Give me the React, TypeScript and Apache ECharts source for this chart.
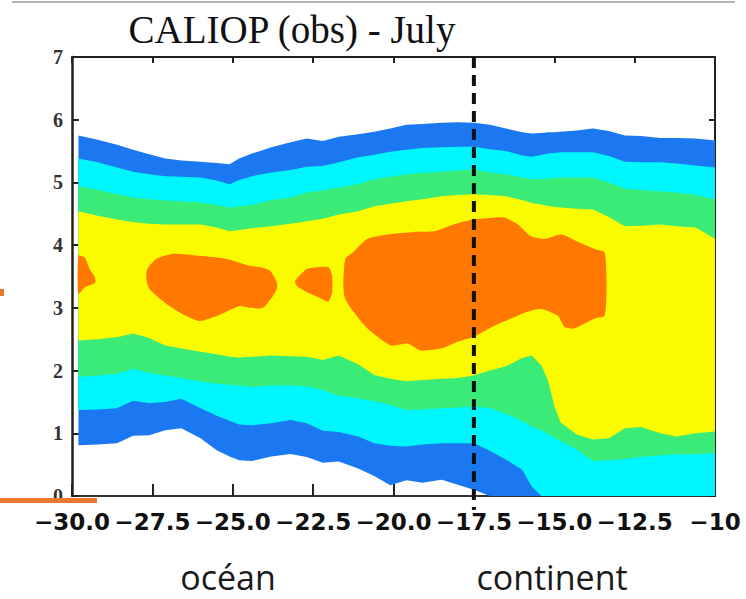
import React, { useEffect, useRef } from "react";
import * as echarts from "echarts";

// Longitude samples (degrees) along which the contour band edges are given
const X = [
  -29.8, -29.2, -28.6, -28.1, -27.6, -27.1, -26.6, -26.0, -25.5, -25.1, -24.8,
  -24.4, -23.8, -23.2, -22.7, -22.2, -21.7, -21.1, -20.6, -20.1, -19.6, -19.1,
  -18.5, -18.0, -17.5, -17.0, -16.5, -16.0, -15.7, -15.4, -15.2, -15.0, -14.8,
  -14.3, -13.8, -13.3, -12.8, -12.3, -11.7, -11.2, -10.6, -10.0,
];

// Altitude (km) of the upper edge of each contour level
const TOP_BLUE = [
  5.75, 5.68, 5.6, 5.52, 5.45, 5.38, 5.35, 5.33, 5.31, 5.29, 5.38, 5.46, 5.56,
  5.64, 5.7, 5.66, 5.73, 5.77, 5.81, 5.86, 5.92, 5.93, 5.95, 5.96, 5.95, 5.92,
  5.86, 5.8, 5.78, 5.79, 5.8, 5.8, 5.81, 5.83, 5.86, 5.82, 5.75, 5.74, 5.71,
  5.71, 5.7, 5.67,
];
const TOP_CYAN = [
  5.38, 5.32, 5.24, 5.17, 5.13, 5.1, 5.09, 5.08, 5.03, 4.97, 5.04, 5.1, 5.16,
  5.2, 5.25, 5.26, 5.32, 5.4, 5.44, 5.49, 5.52, 5.55, 5.56, 5.57, 5.57, 5.53,
  5.5, 5.43, 5.41, 5.44, 5.46, 5.47, 5.48, 5.48, 5.48, 5.42, 5.33, 5.32, 5.32,
  5.3, 5.27, 5.24,
];
const TOP_GREEN = [
  4.94, 4.88, 4.81, 4.76, 4.73, 4.71, 4.7, 4.68, 4.64, 4.6, 4.62, 4.64, 4.72,
  4.76, 4.84, 4.87, 4.92, 4.97, 5.05, 5.09, 5.13, 5.15, 5.17, 5.19, 5.21, 5.16,
  5.13, 5.08, 5.05, 5.05, 5.06, 5.07, 5.08, 5.08, 5.08, 5.0, 4.9, 4.88, 4.86,
  4.84, 4.8, 4.73,
];
const TOP_YELLOW = [
  4.54, 4.47, 4.41, 4.37, 4.34, 4.33, 4.33, 4.33, 4.28, 4.22, 4.24, 4.27, 4.3,
  4.34, 4.38, 4.42, 4.49, 4.54, 4.62, 4.66, 4.7, 4.73, 4.78, 4.8, 4.81, 4.8,
  4.78, 4.72, 4.67, 4.65, 4.63, 4.61, 4.6, 4.58, 4.57, 4.45, 4.3, 4.31, 4.33,
  4.3, 4.28, 4.1,
];

// Altitude (km) of the lower edge of each contour level
const BOT_YELLOW = [
  2.48, 2.5, 2.53, 2.59, 2.52, 2.4, 2.35, 2.3, 2.26, 2.22, 2.21, 2.22, 2.24,
  2.23, 2.22, 2.17, 2.24, 2.1, 1.93, 1.87, 1.83, 1.85, 1.87, 1.88, 1.92, 2.0,
  2.07, 2.2, 2.24, 2.08, 1.85, 1.44, 1.17, 0.98, 0.9, 0.92, 1.08, 1.1, 1.0,
  0.95, 1.0, 1.03,
];
const BOT_GREEN = [
  1.9, 1.92, 1.95, 2.03, 1.96, 1.92, 1.88, 1.83, 1.79, 1.77, 1.76, 1.74, 1.76,
  1.76, 1.75, 1.69, 1.6, 1.56, 1.51, 1.45, 1.37, 1.38, 1.4, 1.41, 1.43, 1.4,
  1.31, 1.2, 1.11, 1.05, 0.99, 0.93, 0.88, 0.74, 0.56, 0.57, 0.59, 0.62, 0.65,
  0.66, 0.67, 0.68,
];
const BOT_CYAN = [
  1.37, 1.38, 1.4, 1.52, 1.48, 1.5, 1.55, 1.4, 1.28, 1.2, 1.14, 1.13, 1.16,
  1.21, 1.16, 1.04, 1.02, 0.95, 0.84, 0.8, 0.79, 0.82, 0.84, 0.84, 0.84, 0.72,
  0.58, 0.42, 0.15, 0, 0, 0, 0, 0, 0, 0, 0, 0, 0, 0, 0, 0,
];
const BOT_BLUE = [
  0.81, 0.82, 0.84, 0.96, 0.97, 1.05, 1.08, 0.92, 0.73, 0.63, 0.57, 0.56, 0.63,
  0.67, 0.62, 0.53, 0.55, 0.44, 0.32, 0.17, 0.25, 0.21, 0.26, 0.18, 0.1, 0, 0,
  0, 0, 0, 0, 0, 0, 0, 0, 0, 0, 0, 0, 0, 0, 0,
];

// Outlines [lon, alt] of the highest-concentration patches
const CORE_WEST_EDGE = [
  [-29.8, 3.83], [-29.6, 3.8], [-29.45, 3.62], [-29.3, 3.5], [-29.27, 3.4],
  [-29.4, 3.37], [-29.6, 3.33], [-29.8, 3.22],
];
const CORE_OCEAN = [
  [-27.66, 3.62], [-27.38, 3.78], [-26.88, 3.86], [-26.03, 3.83], [-25.19, 3.78],
  [-24.47, 3.67], [-24.16, 3.65], [-23.84, 3.59], [-23.63, 3.41], [-23.63, 3.3],
  [-23.75, 3.19], [-24.06, 3.0], [-24.47, 3.0], [-24.78, 3.03], [-25.5, 2.87],
  [-26.03, 2.79], [-26.56, 2.9], [-27.06, 3.06], [-27.59, 3.3], [-27.69, 3.46],
];
const CORE_SMALL = [
  [-23.06, 3.43], [-22.69, 3.62], [-22.03, 3.65], [-21.91, 3.51], [-21.91, 3.25],
  [-22.03, 3.1], [-22.34, 3.17], [-22.69, 3.25], [-23.0, 3.35],
];
const CORE_COAST = [
  [-21.5, 3.14], [-21.56, 3.35], [-21.5, 3.78], [-21.25, 3.89], [-20.81, 4.1],
  [-20.19, 4.17], [-19.38, 4.21], [-18.75, 4.22], [-18.13, 4.33], [-17.53, 4.41],
  [-17.06, 4.43], [-16.56, 4.44], [-16.13, 4.33], [-15.72, 4.14], [-15.31, 4.1],
  [-14.78, 4.17], [-14.25, 4.05], [-13.75, 3.94], [-13.44, 3.89], [-13.38, 3.57],
  [-13.38, 3.14], [-13.44, 2.87], [-13.75, 2.83], [-14.38, 2.67], [-14.69, 2.7],
  [-14.88, 2.87], [-15.41, 2.98], [-15.81, 2.94], [-16.34, 2.83], [-16.88, 2.71],
  [-17.5, 2.54], [-18.0, 2.46], [-18.53, 2.35], [-19.16, 2.32], [-19.56, 2.43],
  [-20.09, 2.4], [-20.81, 2.67], [-21.25, 2.94],
];

// Coastline longitude separating ocean and continent
const COAST_LON = -17.5;

const X_MIN = -30;
const X_MAX = -10;
const X_STEP = 2.5;
const Y_MIN = 0;
const Y_MAX = 7;

const COLORS = {
  blue: "#1c78f0",
  cyan: "#00f6ff",
  green: "#3aeb78",
  yellow: "#fbfb00",
  orange: "#ff7800",
};

const BANDS = [
  { color: COLORS.blue, upper: TOP_BLUE, lower: BOT_BLUE },
  { color: COLORS.cyan, upper: TOP_CYAN, lower: BOT_CYAN },
  { color: COLORS.green, upper: TOP_GREEN, lower: BOT_GREEN },
  { color: COLORS.yellow, upper: TOP_YELLOW, lower: BOT_YELLOW },
];
const CORES = [CORE_WEST_EDGE, CORE_OCEAN, CORE_SMALL, CORE_COAST];

const fmtLon = (v: number) =>
  v === X_MAX ? "\u2212" + Math.abs(v) : "\u2212" + Math.abs(v).toFixed(1);

const axisLine = { show: true, lineStyle: { color: "#222", width: 2 } };

function buildOption() {
  return {
    animation: false,
    backgroundColor: "#fff",
    grid: { left: 72, right: 31, top: 57, bottom: 103 },
    xAxis: [
      {
        type: "value",
        position: "bottom",
        min: X_MIN,
        max: X_MAX,
        interval: X_STEP,
        axisLine,
        axisTick: { show: false },
        axisLabel: { show: false },
        splitLine: { show: false },
      },
      {
        type: "value",
        position: "bottom",
        offset: 8,
        min: X_MIN,
        max: X_MAX,
        interval: X_STEP,
        axisLine: { show: true, lineStyle: { color: "#333", width: 2 } },
        axisTick: { show: true, inside: true, length: 12, lineStyle: { color: "#222", width: 2 } },
        axisLabel: {
          show: true,
          interval: 0,
          margin: 6,
          formatter: fmtLon,
          fontFamily: "DejaVu Sans",
          fontWeight: "bold",
          fontSize: 23,
          color: "#111",
        },
        splitLine: { show: false },
      },
      {
        type: "value",
        position: "top",
        min: X_MIN,
        max: X_MAX,
        interval: X_STEP,
        axisLine,
        axisTick: { show: true, inside: true, length: 6, lineStyle: { color: "#222", width: 2 } },
        axisLabel: { show: false },
        splitLine: { show: false },
      },
    ],
    yAxis: [
      {
        type: "value",
        position: "left",
        min: Y_MIN,
        max: Y_MAX,
        interval: 1,
        axisLine: { show: true, lineStyle: { color: "#222", width: 2.5 } },
        axisTick: { show: true, inside: true, length: 7, lineStyle: { color: "#222", width: 2 } },
        axisLabel: {
          margin: 9,
          fontFamily: "Liberation Serif",
          fontWeight: "bold",
          fontSize: 20,
          color: "#333",
        },
        splitLine: { show: false },
      },
      {
        type: "value",
        position: "right",
        min: Y_MIN,
        max: Y_MAX,
        interval: 1,
        axisLine,
        axisTick: { show: true, inside: true, length: 6, lineStyle: { color: "#222", width: 2 } },
        axisLabel: { show: false },
        splitLine: { show: false },
      },
    ],
    series: [
      {
        type: "custom",
        name: "levels",
        xAxisIndex: 0,
        yAxisIndex: 0,
        clip: true,
        data: BANDS.map((b) => [X[0], b.upper[0]]),
        renderItem: (params: any, api: any) => {
          const band = BANDS[params.dataIndex];
          const pts: number[][] = [];
          for (let i = 0; i < X.length; i++) pts.push(api.coord([X[i], band.upper[i]]));
          for (let i = X.length - 1; i >= 0; i--) pts.push(api.coord([X[i], band.lower[i]]));
          return { type: "polygon", shape: { points: pts }, style: { fill: band.color } };
        },
        z: 1,
      },
      {
        type: "custom",
        name: "cores",
        xAxisIndex: 0,
        yAxisIndex: 0,
        clip: true,
        data: CORES.map((c) => c[0]),
        renderItem: (params: any, api: any) => {
          const poly = CORES[params.dataIndex];
          return {
            type: "polygon",
            shape: { points: poly.map((p) => api.coord(p)), smooth: 0.2 },
            style: { fill: COLORS.orange },
          };
        },
        z: 2,
      },
      {
        type: "custom",
        name: "coast",
        xAxisIndex: 0,
        yAxisIndex: 0,
        data: [[COAST_LON, Y_MAX]],
        renderItem: (_params: any, api: any) => {
          const top = api.coord([COAST_LON, Y_MAX]);
          const bottom = api.coord([COAST_LON, Y_MIN]);
          return {
            type: "line",
            shape: { x1: top[0], y1: top[1], x2: bottom[0], y2: bottom[1] + 14 },
            style: { stroke: "#111", lineWidth: 4, lineDash: [11, 7] },
          };
        },
        z: 5,
      },
    ],
    graphic: [
      {
        type: "line",
        shape: { x1: 12, y1: 2, x2: 735, y2: 2 },
        style: { stroke: "#b4b4b4", lineWidth: 2 },
        z: 10,
      },
      {
        type: "text",
        x: 292,
        y: 29,
        style: {
          text: "CALIOP (obs) - July",
          fontFamily: "Liberation Serif",
          fontSize: 39,
          fill: "#111",
          textAlign: "center",
          textVerticalAlign: "middle",
        },
        z: 10,
      },
      {
        type: "text",
        x: 228,
        y: 577,
        style: {
          text: "océan",
          fontFamily: "Open Sans",
          fontSize: 34,
          lineHeight: 36,
          fill: "#1a1a1a",
          textAlign: "center",
          textVerticalAlign: "middle",
        },
        z: 10,
      },
      {
        type: "text",
        x: 552,
        y: 577,
        style: {
          text: "continent",
          fontFamily: "Open Sans",
          fontSize: 34,
          lineHeight: 36,
          fill: "#1a1a1a",
          textAlign: "center",
          textVerticalAlign: "middle",
        },
        z: 10,
      },
      {
        type: "rect",
        shape: { x: 0, y: 498, width: 97, height: 5 },
        style: { fill: "#e8782f" },
        z: 20,
      },
      {
        type: "rect",
        shape: { x: 0, y: 289, width: 4, height: 7 },
        style: { fill: "#e8782f" },
        z: 20,
      },
    ],
  };
}

export default function App() {
  const ref = useRef<HTMLDivElement>(null);
  useEffect(() => {
    if (!ref.current) return;
    const chart = echarts.init(ref.current, null, { renderer: "svg" });
    chart.setOption(buildOption() as any);
    return () => chart.dispose();
  }, []);
  return (
    <div
      ref={ref}
      style={{ position: "fixed", left: 0, top: 0, width: 746, height: 599, background: "#fff" }}
    />
  );
}
